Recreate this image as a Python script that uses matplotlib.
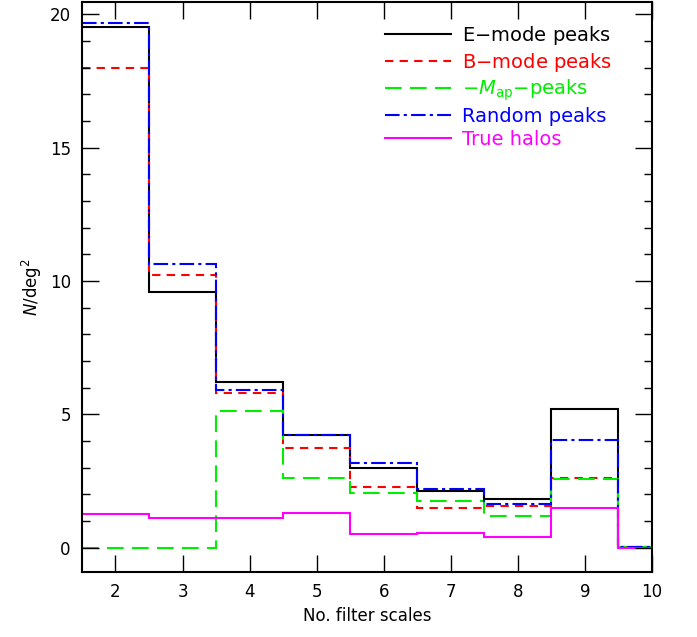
import numpy as np
import matplotlib
matplotlib.use("Agg")
from matplotlib import pyplot as plt
from matplotlib.ticker import MultipleLocator

# bin edges: number of filter scales 2..9, plus the last half bin
edges = [1.5, 2.5, 3.5, 4.5, 5.5, 6.5, 7.5, 8.5, 9.5, 10.5]

e_mode = [19.52, 9.60, 6.20, 4.21, 2.98, 2.13, 1.83, 5.22, 0.02]
b_mode = [17.97, 10.21, 5.79, 3.75, 2.29, 1.49, 1.58, 2.60, 0.02]
m_ap = [0.0, 0.0, 5.13, 2.61, 2.07, 1.76, 1.18, 2.56, 0.02]
random_peaks = [19.68, 10.62, 5.91, 4.22, 3.19, 2.20, 1.63, 4.04, 0.04]
true_halos = [1.27, 1.11, 1.13, 1.31, 0.51, 0.57, 0.41, 1.49, 0.0]

fig = plt.figure(figsize=(6.97, 6.37), dpi=100)
ax = fig.add_axes([0.1176, 0.102, 0.8178, 0.8949])

lw = 1.5
ax.stairs(e_mode, edges, color='black', lw=lw, label='E$-$mode peaks', baseline=None)
ax.stairs(b_mode, edges, color='red', lw=lw, ls=(0, (4, 3)), label='B$-$mode peaks', baseline=None)
ax.stairs(m_ap, edges, color='#00ee00', lw=lw, ls=(0, (8, 4)), label=r'$-M_{\rm ap}$$-$peaks', baseline=None)
ax.stairs(random_peaks, edges, color='blue', lw=lw, ls=(0, (7, 2, 1.5, 2)), label='Random peaks', baseline=None)
ax.stairs(true_halos, edges, color='magenta', lw=lw, label='True halos', baseline=None)

ax.set_xlim(1.5, 10)
ax.set_ylim(-0.91, 20.46)
ax.xaxis.set_major_locator(MultipleLocator(1))
ax.yaxis.set_major_locator(MultipleLocator(5))
ax.yaxis.set_minor_locator(MultipleLocator(1))
ax.tick_params(which='both', direction='in', top=True, right=True, labelsize=12, pad=8)
ax.tick_params(which='major', length=12, width=1)
ax.tick_params(which='minor', length=6, width=1)
for s in ax.spines.values():
    s.set_linewidth(1.5)

ax.set_xlabel('No. filter scales', fontsize=12)
ax.set_ylabel(r'$N$/deg$^2$', fontsize=12)

leg = ax.legend(loc='upper left', bbox_to_anchor=(385 / 697, 1 - 24 / 637),
                bbox_transform=fig.transFigure, frameon=False, borderpad=0,
                borderaxespad=0, fontsize=14, handlelength=3.4, handletextpad=0.55,
                labelspacing=0.2, labelcolor='linecolor')

fig.savefig('out.png', dpi=100)
